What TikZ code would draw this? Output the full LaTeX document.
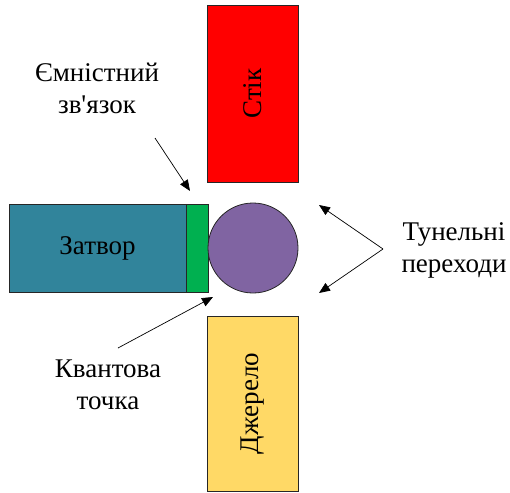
\documentclass[tikz,border=0pt]{standalone}
\usepackage{fontspec}
\setmainfont{Liberation Serif}[Ligatures=TeXOff]
\usetikzlibrary{arrows.meta}
\begin{document}
\begin{tikzpicture}[x=1pt, y=-1pt, font=\fontsize{27}{32}\selectfont,
    part/.style={draw=black!85, line width=0.8pt, inner sep=0pt},
    note/.style={align=center},
    pointer/.style={-{Triangle[length=11pt, width=9pt]}, line width=0.7pt}]
  \useasboundingbox (0, 0) rectangle (510, 492);

  \node (drain) [part, fill=red, rotate=90, minimum width=177, minimum height=91] at (252.5, 93.5) {Стік};
  \node (gate) [part, fill={rgb,255:red,49;green,132;blue,155}, minimum width=177, minimum height=88] at (97.5, 248) {Затвор};
  \node (cap) [part, fill={rgb,255:red,0;green,176;blue,80}, minimum width=22, minimum height=88] at (197, 248) {};
  \node (dot) [part, circle, fill={rgb,255:red,128;green,100;blue,162}, minimum size=90] at (253, 248) {};
  \node (source) [part, fill={rgb,255:red,255;green,217;blue,102}, rotate=90, minimum width=175, minimum height=91] at (252.5, 403.5) {Джерело};

  \node (capnote) [note] at (97, 88) {Ємністний\\зв'язок};
  \node (dotnote) [note] at (108, 385) {Квантова\\точка};
  \node (tunnote) [note] at (454, 250) {Тунельні\\переходи};

  \coordinate (capstart) at (155, 138);
  \coordinate (captip) at (190, 191);
  \coordinate (dotstart) at (118, 348);
  \coordinate (dottip) at (213, 297);
  \coordinate (tunfork) at (383, 249);
  \coordinate (tuntop) at (319, 205);
  \coordinate (tunbot) at (319, 293);

  \draw[pointer] (capstart) to (captip);
  \draw[pointer] (dotstart) to (dottip);
  \draw[pointer] (tunfork) to (tuntop);
  \draw[pointer] (tunfork) to (tunbot);
\end{tikzpicture}
\end{document}
